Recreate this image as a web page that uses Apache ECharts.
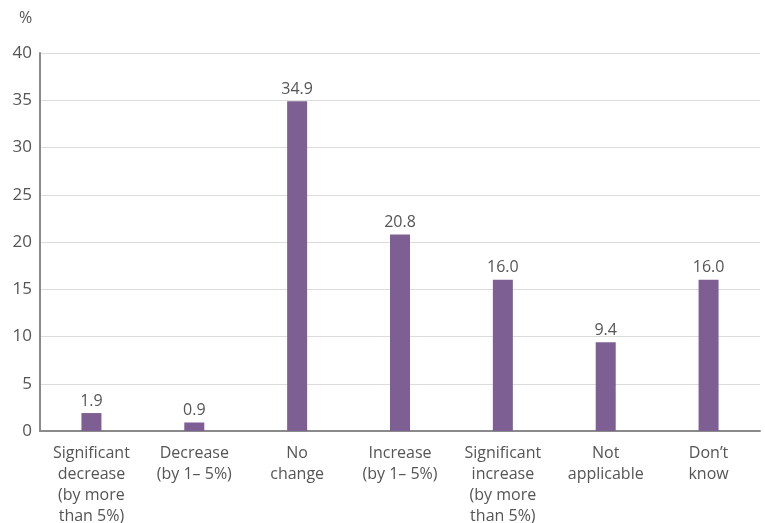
<!DOCTYPE html>
<html>
<head>
<meta charset="utf-8">
<script src="https://cdn.jsdelivr.net/npm/echarts@6/dist/echarts.min.js"></script>
<style>
  html, body { margin: 0; padding: 0; background: #fff; }
  #chart { width: 765px; height: 523px; }
</style>
</head>
<body>
<div id="chart"></div>
<script>
// Share of responses per expected change
const categories = [
  'Significant\ndecrease\n(by more\nthan 5%)',
  'Decrease\n(by 1\u2013 5%)',
  'No\nchange',
  'Increase\n(by 1\u2013 5%)',
  'Significant\nincrease\n(by more\nthan 5%)',
  'Not\napplicable',
  'Don\u2019t\nknow'
];
const values = [1.9, 0.9, 34.9, 20.8, 16.0, 9.4, 16.0];
const yTicks = { min: 0, max: 40, interval: 5 };

const FONT = '"Open Sans", sans-serif';
const TEXT = '#555';

const chart = echarts.init(document.getElementById('chart'), null, { renderer: 'canvas' });
chart.setOption({
  animation: false,
  textStyle: { fontFamily: FONT },
  grid: {
    left: 40, right: 5, top: 53, bottom: 92,
    containLabel: false, outerBoundsMode: 'none'
  },
  graphic: [{
    type: 'text', left: 19, top: 10,
    style: { text: '%', font: '16px ' + FONT, fill: TEXT }
  }],
  xAxis: {
    type: 'category',
    data: categories,
    axisLine: { lineStyle: { color: '#8a8a8a', width: 2 } },
    axisTick: { show: false },
    axisLabel: {
      interval: 0, color: TEXT, fontSize: 16, lineHeight: 21,
      fontFamily: FONT, margin: 12
    }
  },
  yAxis: {
    type: 'value',
    min: yTicks.min, max: yTicks.max, interval: yTicks.interval,
    axisLine: { show: true, lineStyle: { color: '#8a8a8a', width: 2 } },
    axisTick: { show: false },
    splitLine: { lineStyle: { color: '#dcdcdc', width: 1 } },
    axisLabel: { color: TEXT, fontSize: 17, fontFamily: FONT, margin: 8 }
  },
  series: [{
    type: 'bar',
    data: values,
    barWidth: 20,
    itemStyle: { color: '#7e5f94' },
    label: {
      show: true, position: 'top', distance: 4,
      color: TEXT, fontSize: 16, fontFamily: FONT,
      formatter: p => p.value.toFixed(1)
    }
  }]
});
</script>
</body>
</html>
